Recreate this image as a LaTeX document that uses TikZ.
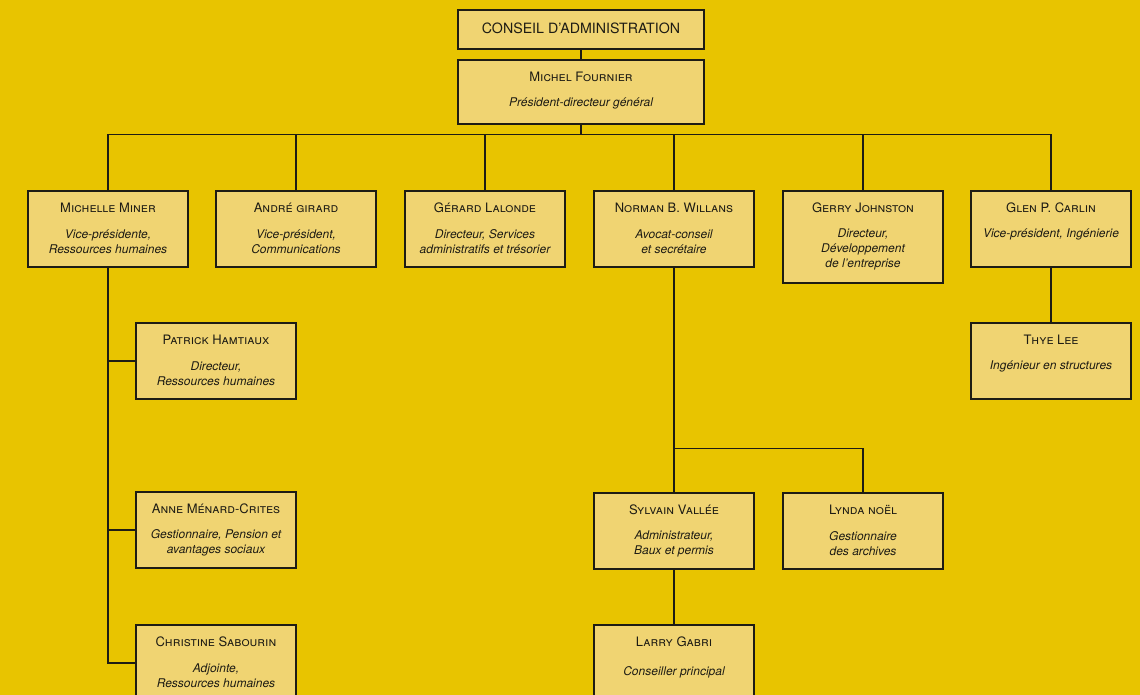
\documentclass[tikz,border=0pt]{standalone}
\usepackage{fontspec}
\setmainfont{TeX Gyre Heros}
\definecolor{bg}{RGB}{232,196,0}
\definecolor{boxfill}{RGB}{240,212,114}
\definecolor{ink}{RGB}{30,28,20}
\tikzset{
  orgbox/.style={draw=ink, fill=boxfill, line width=1.3pt, minimum width=160pt, minimum height=76pt, inner sep=0pt},
  nametxt/.style={font=\fontsize{13}{15}\selectfont\scshape, text=ink, inner sep=0pt},
  roletxt/.style={font=\fontsize{12}{15}\selectfont\itshape, text=ink, inner sep=0pt, align=center},
  link/.style={draw=ink, line width=1.3pt}
}
\begin{document}
\begin{tikzpicture}[x=1pt,y=-1pt]
\useasboundingbox (0,0) rectangle (1140,695);
\fill[bg] (0,0) rectangle (1140,695);
\clip (0,0) rectangle (1140,695);

% top
\node[orgbox, minimum width=246pt, minimum height=39pt] (ca) at (581,29.5) {};
\node[font=\fontsize{14.2}{16}\selectfont, text=ink, inner sep=0pt] (ca-t) at (581,28) {CONSEIL D’ADMINISTRATION};
\node[orgbox, minimum width=246pt, minimum height=64pt] (mf) at (581,92) {};
\node[nametxt] (mf-n) at (581,77) {Michel Fournier};
\node[roletxt] (mf-r) at (581,103) {Président-directeur général};

% row 1
\node[orgbox] (mm) at (108,229) {};
\node[nametxt] (mm-n) at (108,208) {Michelle Miner};
\node[roletxt] (mm-r) at (108,241.5) {Vice-présidente,\\Ressources humaines};

\node[orgbox] (ag) at (296,229) {};
\node[nametxt] (ag-n) at (296,208) {André girard};
\node[roletxt] (ag-r) at (296,241.5) {Vice-président,\\Communications};

\node[orgbox] (gl) at (485,229) {};
\node[nametxt] (gl-n) at (485,208) {Gérard Lalonde};
\node[roletxt] (gl-r) at (485,241.5) {Directeur, Services\\administratifs et trésorier};

\node[orgbox] (nw) at (674,229) {};
\node[nametxt] (nw-n) at (674,208) {Norman B. Willans};
\node[roletxt] (nw-r) at (674,241.5) {Avocat-conseil\\et secrétaire};

\node[orgbox, minimum height=92pt] (gj) at (863,237) {};
\node[nametxt] (gj-n) at (863,208) {Gerry Johnston};
\node[roletxt] (gj-r) at (863,249) {Directeur,\\Développement\\de l’entreprise};

\node[orgbox] (gc) at (1051,229) {};
\node[nametxt] (gc-n) at (1051,208) {Glen P. Carlin};
\node[roletxt] (gc-r) at (1051,234) {Vice-président, Ingénierie};

% Michelle's reports
\node[orgbox] (ph) at (216,361) {};
\node[nametxt] (ph-n) at (216,340) {Patrick Hamtiaux};
\node[roletxt] (ph-r) at (216,373.5) {Directeur,\\Ressources humaines};

\node[orgbox] (am) at (216,530) {};
\node[nametxt] (am-n) at (216,509) {Anne Ménard-Crites};
\node[roletxt] (am-r) at (216,542.5) {Gestionnaire, Pension et\\avantages sociaux};

\node[orgbox] (cs) at (216,663) {};
\node[nametxt] (cs-n) at (216,642) {Christine Sabourin};
\node[roletxt] (cs-r) at (216,675.5) {Adjointe,\\Ressources humaines};

% Norman's reports
\node[orgbox] (sv) at (674,531) {};
\node[nametxt] (sv-n) at (674,510) {Sylvain Vallée};
\node[roletxt] (sv-r) at (674,543.5) {Administrateur,\\Baux et permis};

\node[orgbox] (ln) at (863,531) {};
\node[nametxt] (ln-n) at (863,510) {Lynda noël};
\node[roletxt] (ln-r) at (863,543.5) {Gestionnaire\\des archives};

\node[orgbox] (lg) at (674,663) {};
\node[nametxt] (lg-n) at (674,642) {Larry Gabri};
\node[roletxt] (lg-r) at (674,672.5) {Conseiller principal};

% Glen's report
\node[orgbox] (tl) at (1051,361) {};
\node[nametxt] (tl-n) at (1051,340) {Thye Lee};
\node[roletxt] (tl-r) at (1051,366) {Ingénieur en structures};

% connectors
\draw[link] (ca.south) -- (mf.north);
\foreach \c in {mm,ag,gl,nw,gj,gc}
  \draw[link] (mf.south) -- ++(0,10) -| (\c.north);
\foreach \c in {ph,am,cs}
  \draw[link] (mm.south) |- (\c.west);
\foreach \c in {sv,ln}
  \draw[link] (nw.south) -- ++(0,181) -| (\c.north);
\draw[link] (sv.south) -- (lg.north);
\draw[link] (gc.south) -- (tl.north);
\end{tikzpicture}
\end{document}
